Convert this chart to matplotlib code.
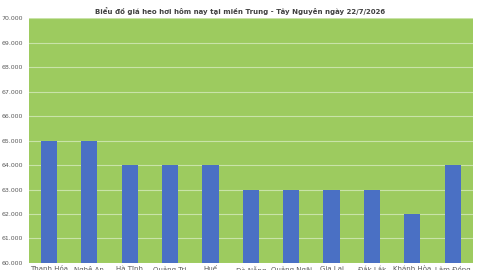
import numpy as np
import matplotlib.pyplot as plt
from matplotlib.ticker import FuncFormatter

# Data
provinces = ["Thanh Hóa", "Nghệ An", "Hà Tĩnh", "Quảng Trị", "Huế", "Đà Nẵng",
             "Quảng Ngãi", "Gia Lai", "Đắk Lắk", "Khánh Hòa", "Lâm Đồng"]
prices = [65, 65, 64, 64, 64, 63, 63, 63, 63, 62, 64]
title = "Biểu đồ giá heo hơi hôm nay tại miền Trung - Tây Nguyên ngày 22/7/2026"

fig = plt.figure(figsize=(4.8, 2.7), dpi=100)
ax = fig.add_axes([0.06, 0.026, 0.925, 0.907])

x = np.arange(len(provinces))
ax.bar(x, prices, width=0.4, color="#4A70C4", zorder=3)

ax.set_facecolor("#9DCB5F")
ax.set_xlim(-0.5, len(provinces) - 0.5)
ax.set_ylim(60, 70)
ax.set_yticks(np.arange(60, 71, 1))
ax.yaxis.set_major_formatter(FuncFormatter(lambda v, p: f"{v:.3f}"))
ax.grid(axis="y", color="#C9E3A8", linewidth=0.8, zorder=1)

ax.set_xticks(x)
ax.set_xticklabels(provinces)
ax.tick_params(axis="x", length=0, pad=2.5, labelsize=5, labelcolor="#595959")
ax.tick_params(axis="y", length=0, pad=4, labelsize=4.5, labelcolor="#595959")
for s in ax.spines.values():
    s.set_visible(False)

fig.text(0.5, 0.958, title, ha="center", va="center", fontsize=5,
         color="#404040", fontweight="bold")

fig.savefig("out.png", dpi=100)
